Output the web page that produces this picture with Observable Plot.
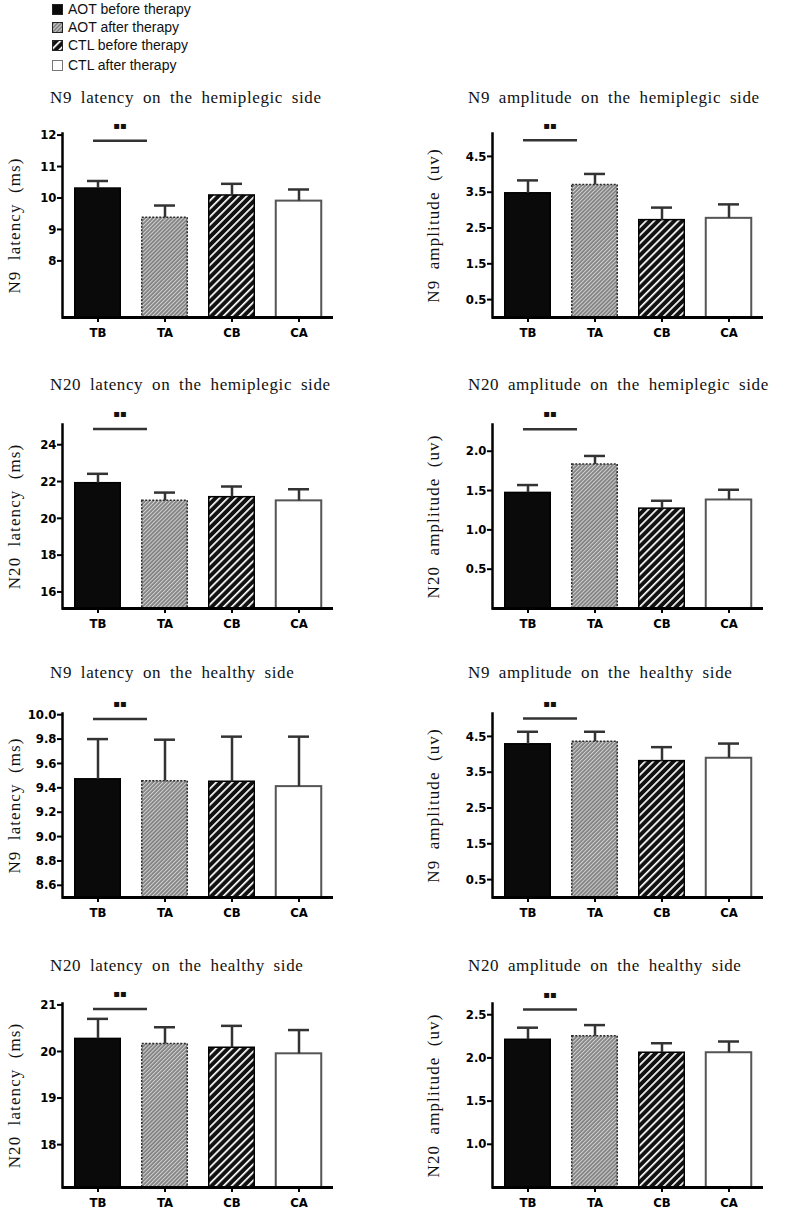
<!DOCTYPE html>
<html><head><meta charset="utf-8">
<script src="https://cdn.jsdelivr.net/npm/d3@7"></script>
<script src="https://cdn.jsdelivr.net/npm/@observablehq/plot@0.6"></script>
<style>
body{margin:0;background:#fff;}
#root{position:relative;width:796px;height:1214px;overflow:hidden;background:#fff}
.title{position:absolute;font-family:"Liberation Serif","Times New Roman",serif;font-size:17px;line-height:17px;letter-spacing:0.6px;word-spacing:4px;white-space:nowrap;color:#111}
.lg{position:absolute;left:52px;height:16px;line-height:16px;white-space:nowrap;display:flex;align-items:center;font-family:"Liberation Sans",Arial,sans-serif;font-size:14px;color:#111}
.lg svg{margin-right:5px}
.plot{position:absolute}
</style>
</head><body>
<svg width="0" height="0" style="position:absolute">
<defs>
<pattern id="patTA" patternUnits="userSpaceOnUse" width="2.8" height="2.8" patternTransform="rotate(45)">
<rect width="2.8" height="2.8" fill="#7e7e7e"/><rect width="1.1" height="2.8" fill="#d0d0d0"/>
</pattern>
<pattern id="patCB" patternUnits="userSpaceOnUse" width="5.7" height="5.7" patternTransform="rotate(45)">
<rect width="5.7" height="5.7" fill="#111"/><rect width="1.7" height="5.7" fill="#fff"/>
</pattern>
</defs></svg>
<div id="root"></div>
<script>
// ---------- data ----------
const groups = ["TB", "TA", "CB", "CA"];
const legendLabels = ["AOT before therapy", "AOT after therapy", "CTL before therapy", "CTL after therapy"];
const panelTitles = [
  "N9 latency on the hemiplegic side", "N9 amplitude on the hemiplegic side",
  "N20 latency on the hemiplegic side", "N20 amplitude on the hemiplegic side",
  "N9 latency on the healthy side", "N9 amplitude on the healthy side",
  "N20 latency on the healthy side", "N20 amplitude on the healthy side"
];
const yLabels = [
  "N9 latency (ms)", "N9 amplitude (uv)",
  "N20 latency (ms)", "N20 amplitude (uv)",
  "N9 latency (ms)", "N9 amplitude (uv)",
  "N20 latency (ms)", "N20 amplitude (uv)"
];
const means = [
  [10.30, 9.37, 10.08, 9.90],
  [3.47, 3.70, 2.72, 2.77],
  [21.91, 20.95, 21.15, 20.95],
  [1.47, 1.83, 1.27, 1.38],
  [9.47, 9.455, 9.45, 9.41],
  [4.28, 4.35, 3.81, 3.89],
  [20.27, 20.16, 20.08, 19.95],
  [2.21, 2.25, 2.06, 2.06]
];
const errTops = [
  [10.54, 9.76, 10.45, 10.27],
  [3.83, 4.01, 3.07, 3.16],
  [22.42, 21.40, 21.73, 21.58],
  [1.57, 1.94, 1.37, 1.51],
  [9.80, 9.795, 9.82, 9.82],
  [4.63, 4.63, 4.20, 4.30],
  [20.70, 20.52, 20.55, 20.46],
  [2.35, 2.38, 2.17, 2.19]
];
const sigLevels = [11.82, 4.95, 24.85, 2.28, 9.965, 5.0, 20.91, 2.56];
const sigText = "▪▪";
const yDomains = [[6.2, 12.05], [0, 5.14], [15.1, 25.1], [0, 2.34], [8.5, 10.01], [0, 5.14], [17.08, 21.03], [0.5, 2.63]];
const yTicks = [
  [8, 9, 10, 11, 12], [0.5, 1.5, 2.5, 3.5, 4.5], [16, 18, 20, 22, 24], [0.5, 1.0, 1.5, 2.0],
  [8.6, 8.8, 9.0, 9.2, 9.4, 9.6, 9.8, 10.0], [0.5, 1.5, 2.5, 3.5, 4.5], [18, 19, 20, 21], [1.0, 1.5, 2.0, 2.5]
];
const yTickLabels = [
  ["8", "9", "10", "11", "12"], ["0.5", "1.5", "2.5", "3.5", "4.5"], ["16", "18", "20", "22", "24"], ["0.5", "1.0", "1.5", "2.0"],
  ["8.6", "8.8", "9.0", "9.2", "9.4", "9.6", "9.8", "10.0"], ["0.5", "1.5", "2.5", "3.5", "4.5"], ["18", "19", "20", "21"], ["1.0", "1.5", "2.0", "2.5"]
];

// ---------- styles ----------
const groupStyle = {
  TB: {fill: "#0a0a0a", stroke: "#000", strokeWidth: 1.5, dash: null},
  TA: {fill: "url(#patTA)", stroke: "#2a2a2a", strokeWidth: 1.5, dash: "2,1.5"},
  CB: {fill: "url(#patCB)", stroke: "#000", strokeWidth: 1.5, dash: null},
  CA: {fill: "#fff", stroke: "#555", strokeWidth: 2, dash: null}
};
const rowTops = [133, 424, 713, 1003];
const titleTops = [89, 376, 664, 957];
const legendCenters = [9, 27, 45, 65];
const tickFont = '"Liberation Sans Narrow","DejaVu Sans Condensed","Liberation Sans",Arial,sans-serif';
const serif = '"Liberation Serif","Times New Roman",serif';

const root = document.getElementById("root");

// legend
legendLabels.forEach((lab, j) => {
  const st = groupStyle[groups[j]];
  const d = document.createElement("div");
  d.className = "lg";
  d.style.top = (legendCenters[j] - 8) + "px";
  d.innerHTML = `<svg width="11" height="11"><rect x="0.5" y="0.5" width="10" height="10" fill="${st.fill}" stroke="${j===3?'#777':'#222'}" stroke-width="1"/></svg><span>${lab}</span>`;
  root.appendChild(d);
});

function panel(i) {
  const isLeft = i % 2 === 0;
  const row = Math.floor(i / 2);
  const mL = isLeft ? 62 : 92;
  const W = isLeft ? 398 : 396;
  const plotW = 271;
  const mT = 30, H = 184, mB = 32;
  const data = groups.map((g, j) => ({g, v: means[i][j], e: errTops[i][j]}));
  const y0 = yDomains[i][0];
  const marks = [];
  groups.forEach((g, j) => {
    const st = groupStyle[g];
    marks.push(Plot.barY([data[j]], {
      x: "g", y1: () => y0, y2: "v", fill: st.fill, stroke: st.stroke,
      strokeWidth: st.strokeWidth, strokeDasharray: st.dash, insetLeft: 0.75, insetRight: 0.75
    }));
  });
  marks.push(Plot.ruleX(data, {x: "g", y1: "v", y2: "e", stroke: "#333", strokeWidth: 2.5}));
  marks.push(Plot.tickY(data, {x: "g", y: "e", stroke: "#333", strokeWidth: 2.5, insetLeft: 13, insetRight: 13}));
  const sig = [{g: "TB", s: sigLevels[i]}];
  marks.push(Plot.tickY(sig, {x: "g", y: "s", stroke: "#333", strokeWidth: 2.5, insetLeft: 19, insetRight: -26}));
  marks.push(Plot.text(sig, {x: "g", y: "s", text: () => sigText, dx: 22, dy: -15, fontSize: 10, fill: "#111", fontFamily: "DejaVu Sans"}));
  marks.push(Plot.axisY({
    ticks: yTicks[i], tickFormat: d => yTickLabels[i][yTicks[i].indexOf(d)],
    tickSize: 5, tickPadding: 1, strokeWidth: 2, fontSize: 13, fontWeight: "bold",
    fontFamily: tickFont, label: null
  }));
  marks.push(Plot.axisX({tickSize: 5, tickPadding: 5, strokeWidth: 2, fontSize: 13, fontWeight: "bold", fontFamily: tickFont, label: null}));
  marks.push(Plot.frame({anchor: "left", strokeWidth: 2.5, stroke: "#000"}));
  marks.push(Plot.ruleY([y0], {stroke: "#000", strokeWidth: 3}));
  marks.push(Plot.text([yLabels[i]], {
    frameAnchor: "left", textAnchor: "middle", rotate: -90, dx: isLeft ? -48 : -59, fontSize: 17,
    fontFamily: serif, fill: "#111"
  }));
  const chart = Plot.plot({
    width: W, height: mT + H + mB,
    marginLeft: mL, marginRight: W - mL - plotW, marginTop: mT, marginBottom: mB,
    x: {domain: groups, paddingInner: 0.3, paddingOuter: 0.16},
    y: {domain: yDomains[i]},
    style: {background: "transparent", color: "#000", overflow: "visible"},
    marks
  });
  const wrap = document.createElement("div");
  wrap.className = "plot";
  wrap.style.left = (isLeft ? 0 : 400) + "px";
  wrap.style.top = (rowTops[row] - mT) + "px";
  wrap.appendChild(chart);
  root.appendChild(wrap);
  const t = document.createElement("div");
  t.className = "title";
  t.style.left = (isLeft ? 50 : 468) + "px";
  t.style.top = titleTops[row] + "px";
  t.textContent = panelTitles[i];
  root.appendChild(t);
}
for (let i = 0; i < 8; i++) panel(i);
// spacing for y labels
document.querySelectorAll("svg text").forEach(el => {
  if (yLabels.includes(el.textContent)) { el.style.letterSpacing = "1.1px"; el.style.wordSpacing = "5px"; }
});
</script>
</body></html>
